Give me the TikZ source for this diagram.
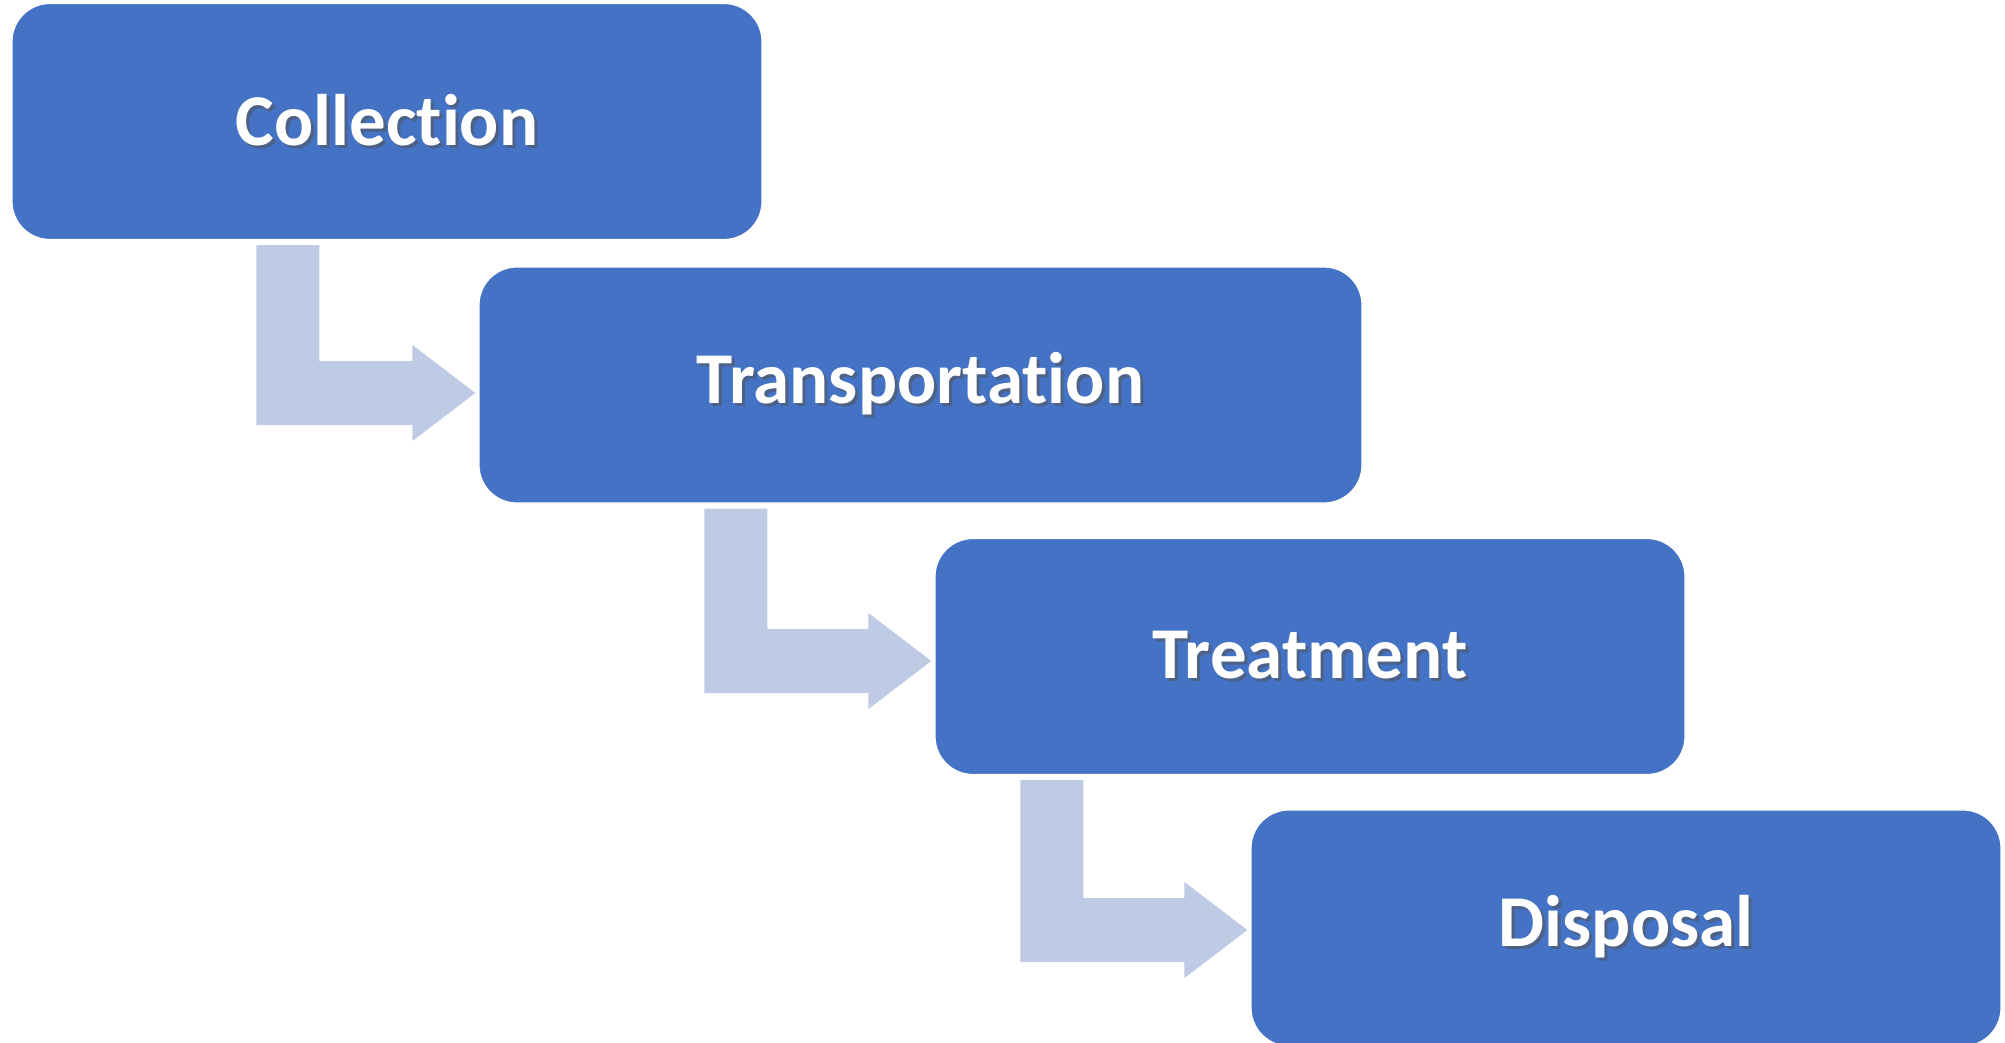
\documentclass[tikz,border=0pt]{standalone}
\usepackage{fontspec}
\setmainfont{Carlito}[Ligatures={NoCommon,NoDiscretionary,NoRare}]
\usetikzlibrary{calc}
\definecolor{boxblue}{HTML}{4472C4}
\definecolor{arrowblue}{HTML}{BFCAE4}
\definecolor{shadowc}{HTML}{1F3A66}
\newcommand\shtext[1]{\leavevmode\rlap{\hspace{3pt}\raisebox{-3pt}{\textcolor{shadowc!80}{#1}}}#1}
\tikzset{
  stage/.style={rectangle, rounded corners=38pt, fill=boxblue, draw=white, line width=1.2pt,
    minimum height=236pt, inner sep=0pt, text=white,
    font=\fontsize{73}{80}\selectfont\bfseries},
  arrowfill/.style={fill=arrowblue, draw=none}
}
% #1 src, #2 tgt, #3 bar-left offset from tgt west, #4 centre offset (down) from tgt west
\newcommand\bentarrow[4]{%
  \fill[arrowfill] let \p1=(#1.south), \p2=(#2.west) in
    (\x2-#3pt, \y1-5pt) -- (\x2-#3pt+63pt, \y1-5pt) -- (\x2-#3pt+63pt, \y2-#4pt+32pt)
    -- (\x2-66pt, \y2-#4pt+32pt) -- (\x2-66pt, \y2-#4pt+48pt) -- (\x2-3pt, \y2-#4pt)
    -- (\x2-66pt, \y2-#4pt-48pt) -- (\x2-66pt, \y2-#4pt-32pt) -- (\x2-#3pt, \y2-#4pt-32pt) -- cycle;}
\begin{document}
\begin{tikzpicture}[x=1pt,y=-1pt]
\useasboundingbox (0,0) rectangle (2005,1043);
\node[stage, minimum width=750pt] (c1) at (387,121.5) {\shtext{Collection}};
\node[stage, minimum width=883pt] (c2) at (920.5,385) {\shtext{Transportation}};
\node[stage, minimum width=750pt] (c3) at (1310,656.5) {\shtext{Treatment}};
\node[stage, minimum width=750pt] (c4) at (1626,928) {\shtext{Disposal}};
\bentarrow{c1}{c2}{222}{8}
\bentarrow{c2}{c3}{230}{4.5}
\bentarrow{c3}{c4}{230}{2}
\end{tikzpicture}
\end{document}
